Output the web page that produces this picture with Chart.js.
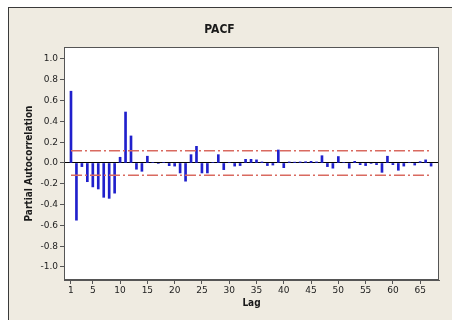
<!DOCTYPE html>
<html>
<head>
<meta charset="utf-8">
<script src="https://cdn.jsdelivr.net/npm/chart.js@4/dist/chart.umd.min.js"></script>
<style>
  html, body { margin: 0; padding: 0; background: #ffffff; width: 452px; height: 320px; overflow: hidden; }
  #frame { position: absolute; left: 8px; top: 7px; right: 0; bottom: 0; background: #efebe1; border-left: 1px solid #3a3a3a; border-top: 1px solid #3a3a3a; }
  #c { position: absolute; left: 0; top: 0; }
</style>
</head>
<body>
<div id="frame"></div>
<canvas id="c" width="452" height="320"></canvas>
<script>
// ---- data ----
const lags = [1,2,3,4,5,6,7,8,9,10,11,12,13,14,15,16,17,18,19,20,21,22,23,24,25,26,27,28,29,30,31,32,33,34,35,36,37,38,39,40,41,42,43,44,45,46,47,48,49,50,51,52,53,54,55,56,57,58,59,60,61,62,63,64,65,66,67];
const pacf = [0.69,-0.55,-0.035,-0.18,-0.23,-0.25,-0.33,-0.34,-0.29,0.055,
              0.49,0.26,-0.06,-0.08,0.065,0.005,-0.005,0.005,-0.026,-0.03,
              -0.096,-0.175,0.08,0.16,-0.096,-0.096,0.005,0.08,-0.064,0.005,
              -0.03,-0.025,0.035,0.035,0.03,0.01,-0.025,-0.02,0.125,-0.045,
              0.01,0.008,0.01,0.012,0.016,0.01,0.07,-0.035,-0.05,0.062,
              0.005,-0.05,0.016,-0.016,-0.025,-0.005,-0.016,-0.09,0.065,-0.016,
              -0.07,-0.03,0.005,-0.02,0.013,0.03,-0.03];
const upperLimit = 0.117;
const lowerLimit = -0.117;
const xTickLabels = [1,5,10,15,20,25,30,35,40,45,50,55,60,65];
const yTickValues = [-1.0,-0.8,-0.6,-0.4,-0.2,0.0,0.2,0.4,0.6,0.8,1.0];

const tickFont = { family: "'DejaVu Sans', Verdana, sans-serif", size: 9 };
const titleFont = { family: "'DejaVu Sans Condensed', 'DejaVu Sans', sans-serif", size: 10, weight: 'bold' };

const plotFrame = {
  id: 'plotFrame',
  beforeDraw(chart) {
    const a = chart.chartArea, ctx = chart.ctx;
    ctx.save();
    ctx.fillStyle = '#ffffff';
    ctx.fillRect(a.left, a.top, a.right - a.left, a.bottom - a.top);
    ctx.restore();
  },
  afterDraw(chart) {
    const a = chart.chartArea, ctx = chart.ctx;
    ctx.save();
    ctx.strokeStyle = '#555555';
    ctx.lineWidth = 1;
    ctx.strokeRect(Math.round(a.left) + 0.5, Math.round(a.top) + 0.5, Math.round(a.right - a.left) - 1, Math.round(a.bottom - a.top) - 1);
    ctx.restore();
  }
};

new Chart(document.getElementById('c'), {
  type: 'bar',
  data: {
    datasets: [
      {
        type: 'bar',
        label: 'PACF',
        data: lags.map((l, i) => ({ x: l, y: pacf[i] })),
        backgroundColor: '#2020cc',
        borderWidth: 0,
        barThickness: 2,
        order: 2
      },
      {
        type: 'line',
        label: 'upper',
        data: [{ x: lags[0], y: upperLimit }, { x: lags[lags.length - 1], y: upperLimit }],
        borderColor: '#d96a60',
        borderWidth: 1.5,
        borderDash: [11, 3, 2, 3],
        pointRadius: 0,
        fill: false,
        order: 1
      },
      {
        type: 'line',
        label: 'lower',
        data: [{ x: lags[0], y: lowerLimit }, { x: lags[lags.length - 1], y: lowerLimit }],
        borderColor: '#d96a60',
        borderWidth: 1.5,
        borderDash: [11, 3, 2, 3],
        pointRadius: 0,
        fill: false,
        order: 1
      }
    ]
  },
  options: {
    responsive: false,
    animation: false,
    devicePixelRatio: 1,
    layout: { padding: { left: 0, right: 13, top: 0, bottom: 0 } },
    plugins: {
      legend: { display: false },
      tooltip: { enabled: false },
      title: {
        display: true,
        text: 'PACF',
        color: '#1a1a1a',
        font: { family: "'DejaVu Sans Condensed', 'DejaVu Sans', sans-serif", size: 12, weight: 'bold' },
        padding: { top: 22.8, bottom: 9.8 }
      }
    },
    scales: {
      x: {
        type: 'linear',
        min: -0.28,
        max: 68.45,
        offset: false,
        afterFit(scale) { scale.height = 40; },
        afterBuildTicks(scale) { scale.ticks = xTickLabels.map(v => ({ value: v })); },
        ticks: { font: tickFont, color: '#222', padding: 1, maxRotation: 0, autoSkip: false,
                 callback: v => String(v) },
        grid: { display: true, drawOnChartArea: false, tickLength: 4, tickColor: '#555', offset: false },
        border: { display: true, color: '#555' },
        title: { display: true, text: 'Lag', color: '#1a1a1a', font: titleFont, padding: { top: 0, bottom: 11 } }
      },
      y: {
        type: 'linear',
        min: -1.125,
        max: 1.115,
        afterFit(scale) { scale.width = 64; },
        afterBuildTicks(scale) { scale.ticks = yTickValues.map(v => ({ value: v })); },
        ticks: { font: tickFont, color: '#222', padding: 2,
                 callback: v => Number(v).toFixed(1) },
        grid: {
          display: true,
          drawOnChartArea: true,
          tickLength: 4,
          tickColor: '#555',
          color: ctx => (ctx.tick && Math.abs(ctx.tick.value) < 1e-9) ? '#000000' : 'rgba(0,0,0,0)'
        },
        border: { display: true, color: '#555' },
        title: { display: true, text: 'Partial Autocorrelation', color: '#1a1a1a', font: titleFont, padding: { top: 23, bottom: 0 } }
      }
    }
  },
  plugins: [plotFrame]
});
</script>
</body>
</html>
